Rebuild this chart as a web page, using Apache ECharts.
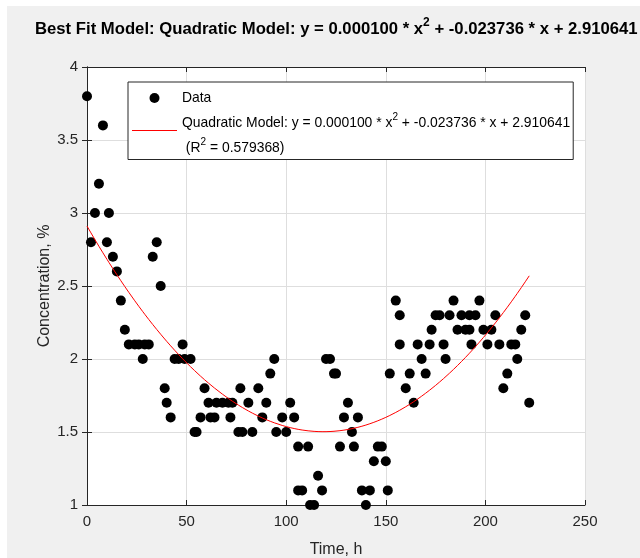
<!DOCTYPE html>
<html>
<head>
<meta charset="utf-8">
<script src="https://cdn.jsdelivr.net/npm/echarts@6/dist/echarts.min.js"></script>
<style>
  html, body { margin: 0; padding: 0; background: #ffffff; }
  #chart { width: 640px; height: 558px; }
</style>
</head>
<body>
<div id="chart"></div>
<script>
// Measured samples: time (h) and concentration (%)
const timeH = [
  0, 2, 4, 6, 8, 10, 11, 13, 15, 17, 19, 21, 24, 26, 28, 29, 31, 33, 35, 37,
  39, 40, 42, 44, 46, 48, 49, 52, 54, 55, 57, 59, 61, 62, 64, 65, 68, 71, 72, 73,
  76, 77, 78, 81, 83, 86, 88, 90, 92, 94, 95, 98, 100, 102, 104, 106, 106, 108, 111, 112,
  114, 116, 118, 120, 122, 124, 125, 127, 129, 131, 133, 134, 136, 138, 140, 142, 144, 146, 148, 150,
  151, 152, 155, 157, 157, 160, 162, 164, 166, 168, 170, 172, 173, 175, 177, 179, 180, 182, 184, 186,
  188, 190, 192, 192, 193, 195, 197, 199, 201, 203, 205, 207, 209, 211, 213, 215, 216, 218, 220, 222
];
const concentration = [
  3.8, 2.8, 3.0, 3.2, 3.6, 2.8, 3.0, 2.7, 2.6, 2.4, 2.2, 2.1, 2.1, 2.1, 2.0, 2.1, 2.1, 2.7, 2.8, 2.5,
  1.8, 1.7, 1.6, 2.0, 2.0, 2.1, 2.0, 2.0, 1.5, 1.5, 1.6, 1.8, 1.7, 1.6, 1.6, 1.7, 1.7, 1.7, 1.6, 1.7,
  1.5, 1.8, 1.5, 1.7, 1.5, 1.8, 1.6, 1.7, 1.9, 2.0, 1.5, 1.6, 1.5, 1.7, 1.6, 1.4, 1.1, 1.1, 1.4, 1.0,
  1.0, 1.2, 1.1, 2.0, 2.0, 1.9, 1.9, 1.4, 1.6, 1.7, 1.5, 1.4, 1.6, 1.1, 1.0, 1.1, 1.3, 1.4, 1.4, 1.3,
  1.1, 1.9, 2.4, 2.3, 2.1, 1.8, 1.9, 1.7, 2.1, 2.0, 1.9, 2.1, 2.2, 2.3, 2.3, 2.1, 2.0, 2.3, 2.4, 2.2,
  2.3, 2.2, 2.2, 2.3, 2.1, 2.3, 2.4, 2.2, 2.1, 2.2, 2.3, 2.1, 1.8, 1.9, 2.1, 2.1, 2.0, 2.2, 2.3, 1.7
];

// Quadratic fit y = a*x^2 + b*x + c and its goodness of fit
const fitCoefficients = [0.000100, -0.023736, 2.910641];
const rSquared = 0.579368;

// Axis tick values
const xTicks = [0, 50, 100, 150, 200, 250];
const yTicks = [1, 1.5, 2, 2.5, 3, 3.5, 4];

const FONT = '"Liberation Sans", Arial, Helvetica, sans-serif';
const INK = '#262626';

const [a, b, c] = fitCoefficients;
const fmt = v => v.toFixed(6);

// Fitted values evaluated at every sampled time
const fitX = Array.from(new Set(timeH)).sort((p, q) => p - q);
const fitData = fitX.map(x => [x, a * x * x + b * x + c]);
const scatterData = timeH.map((x, i) => [x, concentration[i]]);

const eqHead = 'y = ' + fmt(a) + ' * x';
const eqTail = ' + ' + fmt(b) + ' * x + ' + fmt(c);

const chart = echarts.init(document.getElementById('chart'), null, { renderer: 'canvas' });

// Mirror axes that close the box on the top and right edges
const boxAxis = {
  type: 'value',
  axisLine: { show: true, lineStyle: { color: INK, width: 1 } },
  axisTick: { show: true, inside: true, length: 5, lineStyle: { color: INK } },
  splitLine: { show: false },
  axisLabel: { show: false }
};

const option = {
  backgroundColor: '#ffffff',
  animation: false,
  textStyle: { fontFamily: FONT },
  graphic: [{
    type: 'rect', z: -10, silent: true,
    shape: { x: 7, y: 6, width: 633, height: 552 },
    style: { fill: '#f0f0f0' }
  }],
  title: {
    left: 35,
    top: 17,
    padding: 0,
    text: '{b|Best Fit Model: Quadratic Model: ' + eqHead + '}{s|2}{b|' + eqTail + '}',
    textStyle: {
      rich: {
        b: { fontFamily: FONT, fontWeight: 'bold', fontSize: 16.7, color: '#000', lineHeight: 24 },
        s: { fontFamily: FONT, fontWeight: 'bold', fontSize: 12, color: '#000', lineHeight: 13, verticalAlign: 'top' }
      }
    }
  },
  legend: {
    orient: 'vertical',
    left: 128,
    top: 82,
    padding: [9, 3, 0, 4],
    itemWidth: 45,
    itemHeight: 10,
    itemGap: 7,
    backgroundColor: '#ffffff',
    borderColor: INK,
    borderWidth: 1,
    borderRadius: 0,
    data: [
      { name: 'Data', icon: 'circle' },
      { name: 'Quadratic Model', icon: 'path://M0,0 L45,0 L45,1 L0,1 Z' }
    ],
    formatter: name => name === 'Data'
      ? '{t|Data}'
      : '{t1|Quadratic Model: ' + eqHead + '}{s1|2}{t1|' + eqTail + '}\n{t2| (R}{s2|2}{t2| = ' + fmt(rSquared) + ')}',
    textStyle: {
      rich: {
        t: { fontFamily: FONT, fontSize: 13.9, color: '#000', lineHeight: 25 },
        t1: { fontFamily: FONT, fontSize: 13.9, color: '#000', lineHeight: 36 },
        s1: { fontFamily: FONT, fontSize: 10, color: '#000', lineHeight: 14, padding: [0, 0, 12, 0] },
        t2: { fontFamily: FONT, fontSize: 13.9, color: '#000', lineHeight: 15 },
        s2: { fontFamily: FONT, fontSize: 10, color: '#000', lineHeight: 14, padding: [0, 0, 12, 0] }
      }
    }
  },
  grid: {
    left: 87, right: 55, top: 67, bottom: 53,
    outerBoundsMode: 'none',
    show: true, backgroundColor: '#ffffff', borderWidth: 0
  },
  xAxis: [{
    type: 'value',
    min: xTicks[0], max: xTicks[xTicks.length - 1],
    interval: xTicks[1] - xTicks[0],
    name: 'Time, h',
    nameLocation: 'middle',
    nameGap: 37,
    nameMoveOverlap: false,
    nameTextStyle: { fontFamily: FONT, fontSize: 16, color: INK },
    axisLine: { show: true, lineStyle: { color: INK, width: 1 } },
    axisTick: { show: true, inside: true, length: 5, lineStyle: { color: INK } },
    axisLabel: { fontFamily: FONT, fontSize: 15, color: INK, margin: 9 },
    splitLine: { show: true, lineStyle: { color: '#dedede', width: 1 } }
  }, Object.assign({}, boxAxis, {
    position: 'top',
    min: xTicks[0], max: xTicks[xTicks.length - 1],
    interval: xTicks[1] - xTicks[0]
  })],
  yAxis: [{
    type: 'value',
    min: yTicks[0], max: yTicks[yTicks.length - 1],
    interval: yTicks[1] - yTicks[0],
    name: 'Concentration, %',
    nameLocation: 'middle',
    nameGap: 34,
    nameMoveOverlap: false,
    nameTextStyle: { fontFamily: FONT, fontSize: 16, color: INK },
    axisLine: { show: true, lineStyle: { color: INK, width: 1 } },
    axisTick: { show: true, inside: true, length: 5, lineStyle: { color: INK } },
    axisLabel: { fontFamily: FONT, fontSize: 15, color: INK, margin: 9 },
    splitLine: { show: true, lineStyle: { color: '#dedede', width: 1 } }
  }, Object.assign({}, boxAxis, {
    position: 'right',
    min: yTicks[0], max: yTicks[yTicks.length - 1],
    interval: yTicks[1] - yTicks[0]
  })],
  series: [
    {
      name: 'Data',
      type: 'scatter',
      data: scatterData,
      symbol: 'circle',
      symbolSize: 10,
      itemStyle: { color: '#000000', opacity: 1 },
      z: 2
    },
    {
      name: 'Quadratic Model',
      type: 'line',
      data: fitData,
      showSymbol: false,
      symbol: 'none',
      smooth: false,
      lineStyle: { color: '#ff0000', width: 1 },
      itemStyle: { color: '#ff0000' },
      z: 3
    }
  ]
};

chart.setOption(option);
</script>
</body>
</html>
